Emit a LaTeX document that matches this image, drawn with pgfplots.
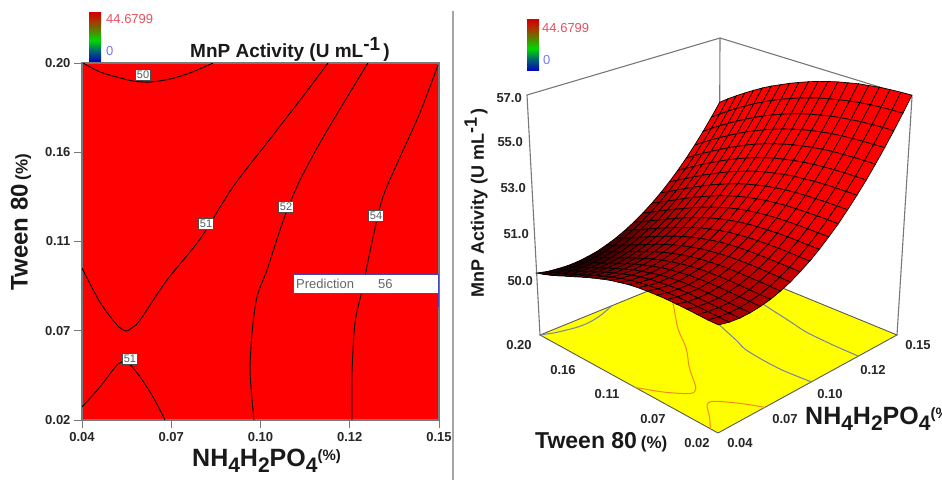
\documentclass[border=0pt]{standalone}
\usepackage{pgfplots}
\usepackage{pgfplotstable}
\pgfplotsset{compat=1.18}
\usepackage{fontspec}
\setmainfont{Liberation Sans}
\definecolor{axgray}{RGB}{120,120,120}
\definecolor{cthi}{RGB}{120,130,160}
\definecolor{ctlo}{RGB}{240,140,30}
\definecolor{barred}{RGB}{232,80,96}
\definecolor{barblue}{RGB}{120,120,240}
\definecolor{yel}{RGB}{255,255,0}
\pgfdeclareverticalshading{cbar}{100bp}{rgb(0bp)=(0,0,.75); rgb(25bp)=(0,0,.75); rgb(37bp)=(0,.42,.42); rgb(47bp)=(0,.85,0); rgb(59bp)=(.4,.45,0); rgb(67bp)=(.68,.2,0); rgb(75bp)=(.82,0,0); rgb(100bp)=(.82,0,0)}
\pgfplotstableread{
N T
0.0403 0.2000
0.0455 0.1955
0.0508 0.1929
0.0557 0.1909
0.0610 0.1904
0.0671 0.1919
0.0733 0.1950
0.0804 0.2000
}\cFifty
\pgfplotstableread{
N T
0.1158 0.2000
0.1072 0.1813
0.0970 0.1597
0.0865 0.1375
0.0764 0.1113
0.0662 0.0906
0.0579 0.0704
0.0557 0.0669
0.0536 0.0649
0.0508 0.0679
0.0455 0.0795
0.0400 0.0966
}\cFiftyOneA
\pgfplotstableread{
N T
0.0400 0.0266
0.0455 0.0366
0.0511 0.0482
0.0542 0.0487
0.0579 0.0417
0.0619 0.0316
0.0656 0.0200
}\cFiftyOneB
\pgfplotstableread{
N T
0.1281 0.2000
0.1217 0.1828
0.1133 0.1597
0.1072 0.1410
0.1032 0.1259
0.1001 0.1113
0.0970 0.0956
0.0939 0.0820
0.0924 0.0639
0.0918 0.0437
0.0930 0.0200
}\cFiftyTwo
\pgfplotstableread{
N T
0.1497 0.1990
0.1441 0.1748
0.1380 0.1526
0.1327 0.1324
0.1297 0.1123
0.1263 0.0855
0.1241 0.0689
0.1232 0.0437
0.1232 0.0200
}\cFiftyFour
\pgfplotstableread{
N T
0.04 0.02
0.15 0.02
0.15 0.20
0.04 0.20
0.04 0.02
}\cFloor
% response surface: P, Q are grid steps (of 20) along NH4H2PO4 and Tween 80, Z is MnP activity
\pgfplotstableread{
P Q Z
20 20 54.36
20 19 54.62
20 18 54.86
20 17 55.09
20 16 55.31
20 15 55.52
20 14 55.71
20 13 55.88
20 12 56.05
20 11 56.20
20 10 56.34
20 9 56.47
20 8 56.58
20 7 56.68
20 6 56.76
20 5 56.84
20 4 56.89
20 3 56.94
20 2 56.97
20 1 56.99
20 0 57.00
19 20 53.86
19 19 54.10
19 18 54.34
19 17 54.57
19 16 54.78
19 15 54.99
19 14 55.18
19 13 55.36
19 12 55.52
19 11 55.67
19 10 55.81
19 9 55.93
19 8 56.04
19 7 56.13
19 6 56.21
19 5 56.28
19 4 56.34
19 3 56.38
19 2 56.41
19 1 56.42
19 0 56.43
18 20 53.38
18 19 53.62
18 18 53.85
18 17 54.07
18 16 54.28
18 15 54.48
18 14 54.67
18 13 54.85
18 12 55.01
18 11 55.16
18 10 55.30
18 9 55.42
18 8 55.52
18 7 55.61
18 6 55.69
18 5 55.75
18 4 55.80
18 3 55.84
18 2 55.86
18 1 55.88
18 0 55.88
17 20 52.93
17 19 53.16
17 18 53.39
17 17 53.60
17 16 53.81
17 15 54.01
17 14 54.20
17 13 54.37
17 12 54.53
17 11 54.68
17 10 54.81
17 9 54.93
17 8 55.03
17 7 55.12
17 6 55.19
17 5 55.25
17 4 55.29
17 3 55.32
17 2 55.34
17 1 55.35
17 0 55.36
16 20 52.51
16 19 52.73
16 18 52.95
16 17 53.16
16 16 53.36
16 15 53.56
16 14 53.74
16 13 53.92
16 12 54.08
16 11 54.22
16 10 54.35
16 9 54.46
16 8 54.56
16 7 54.64
16 6 54.71
16 5 54.77
16 4 54.81
16 3 54.83
16 2 54.85
16 1 54.86
16 0 54.86
15 20 52.12
15 19 52.33
15 18 52.54
15 17 52.75
15 16 52.95
15 15 53.14
15 14 53.32
15 13 53.49
15 12 53.65
15 11 53.79
15 10 53.92
15 9 54.03
15 8 54.12
15 7 54.20
15 6 54.26
15 5 54.31
15 4 54.35
15 3 54.37
15 2 54.39
15 1 54.39
15 0 54.39
14 20 51.76
14 19 51.96
14 18 52.16
14 17 52.36
14 16 52.56
14 15 52.74
14 14 52.92
14 13 53.09
14 12 53.24
14 11 53.38
14 10 53.51
14 9 53.61
14 8 53.70
14 7 53.78
14 6 53.84
14 5 53.88
14 4 53.92
14 3 53.94
14 2 53.95
14 1 53.95
14 0 53.95
13 20 51.43
13 19 51.62
13 18 51.81
13 17 52.01
13 16 52.20
13 15 52.38
13 14 52.56
13 13 52.72
13 12 52.87
13 11 53.01
13 10 53.13
13 9 53.23
13 8 53.32
13 7 53.39
13 6 53.45
13 5 53.49
13 4 53.51
13 3 53.53
13 2 53.54
13 1 53.54
13 0 53.54
12 20 51.13
12 19 51.31
12 18 51.49
12 17 51.68
12 16 51.87
12 15 52.05
12 14 52.22
12 13 52.38
12 12 52.53
12 11 52.66
12 10 52.78
12 9 52.88
12 8 52.96
12 7 53.03
12 6 53.08
12 5 53.12
12 4 53.14
12 3 53.15
12 2 53.16
12 1 53.16
12 0 53.15
11 20 50.86
11 19 51.03
11 18 51.21
11 17 51.39
11 16 51.57
11 15 51.74
11 14 51.91
11 13 52.07
11 12 52.21
11 11 52.34
11 10 52.46
11 9 52.56
11 8 52.64
11 7 52.70
11 6 52.75
11 5 52.78
11 4 52.80
11 3 52.81
11 2 52.81
11 1 52.81
11 0 52.81
10 20 50.62
10 19 50.78
10 18 50.95
10 17 51.12
10 16 51.30
10 15 51.47
10 14 51.64
10 13 51.79
10 12 51.93
10 11 52.06
10 10 52.17
10 9 52.26
10 8 52.34
10 7 52.40
10 6 52.44
10 5 52.47
10 4 52.49
10 3 52.50
10 2 52.50
10 1 52.49
10 0 52.49
9 20 50.41
9 19 50.56
9 18 50.73
9 17 50.90
9 16 51.07
9 15 51.23
9 14 51.39
9 13 51.54
9 12 51.68
9 11 51.81
9 10 51.91
9 9 52.00
9 8 52.08
9 7 52.13
9 6 52.17
9 5 52.20
9 4 52.21
9 3 52.22
9 2 52.22
9 1 52.21
9 0 52.20
8 20 50.23
8 19 50.38
8 18 50.53
8 17 50.70
8 16 50.86
8 15 51.03
8 14 51.18
8 13 51.33
8 12 51.47
8 11 51.59
8 10 51.69
8 9 51.78
8 8 51.85
8 7 51.90
8 6 51.94
8 5 51.96
8 4 51.97
8 3 51.97
8 2 51.97
8 1 51.96
8 0 51.96
7 20 50.09
7 19 50.22
7 18 50.37
7 17 50.53
7 16 50.69
7 15 50.85
7 14 51.01
7 13 51.15
7 12 51.28
7 11 51.40
7 10 51.50
7 9 51.59
7 8 51.65
7 7 51.70
7 6 51.74
7 5 51.76
7 4 51.77
7 3 51.77
7 2 51.76
7 1 51.75
7 0 51.74
6 20 49.97
6 19 50.10
6 18 50.25
6 17 50.40
6 16 50.56
6 15 50.72
6 14 50.87
6 13 51.01
6 12 51.14
6 11 51.25
6 10 51.35
6 9 51.43
6 8 51.49
6 7 51.54
6 6 51.57
6 5 51.59
6 4 51.60
6 3 51.59
6 2 51.59
6 1 51.58
6 0 51.57
5 20 49.90
5 19 50.02
5 18 50.16
5 17 50.31
5 16 50.46
5 15 50.61
5 14 50.76
5 13 50.90
5 12 51.03
5 11 51.14
5 10 51.23
5 9 51.31
5 8 51.37
5 7 51.42
5 6 51.45
5 5 51.46
5 4 51.47
5 3 51.46
5 2 51.45
5 1 51.44
5 0 51.43
4 20 49.85
4 19 49.97
4 18 50.11
4 17 50.25
4 16 50.40
4 15 50.55
4 14 50.69
4 13 50.83
4 12 50.95
4 11 51.06
4 10 51.16
4 9 51.23
4 8 51.29
4 7 51.34
4 6 51.36
4 5 51.38
4 4 51.38
4 3 51.37
4 2 51.36
4 1 51.35
4 0 51.34
3 20 49.84
3 19 49.95
3 18 50.08
3 17 50.23
3 16 50.37
3 15 50.52
3 14 50.66
3 13 50.79
3 12 50.92
3 11 51.02
3 10 51.11
3 9 51.19
3 8 51.25
3 7 51.29
3 6 51.31
3 5 51.32
3 4 51.32
3 3 51.31
3 2 51.30
3 1 51.29
3 0 51.28
2 20 49.87
2 19 49.97
2 18 50.10
2 17 50.24
2 16 50.38
2 15 50.53
2 14 50.67
2 13 50.80
2 12 50.92
2 11 51.03
2 10 51.12
2 9 51.19
2 8 51.24
2 7 51.28
2 6 51.31
2 5 51.32
2 4 51.31
2 3 51.30
2 2 51.29
2 1 51.27
2 0 51.26
1 20 49.92
1 19 50.03
1 18 50.15
1 17 50.29
1 16 50.43
1 15 50.57
1 14 50.71
1 13 50.84
1 12 50.96
1 11 51.07
1 10 51.16
1 9 51.23
1 8 51.28
1 7 51.32
1 6 51.34
1 5 51.35
1 4 51.34
1 3 51.33
1 2 51.32
1 1 51.30
1 0 51.29
0 20 50.02
0 19 50.12
0 18 50.24
0 17 50.38
0 16 50.52
0 15 50.66
0 14 50.80
0 13 50.93
0 12 51.05
0 11 51.16
0 10 51.24
0 9 51.32
0 8 51.37
0 7 51.40
0 6 51.42
0 5 51.43
0 4 51.42
0 3 51.41
0 2 51.39
0 1 51.37
0 0 51.37
}\surfdata
\newcommand\pSf{(\thisrow{P}/20)}
\newcommand\qSf{(\thisrow{Q}/20)}
\newcommand\wSf{((\thisrow{Z}-47.4)/9.6)}
\newcommand\pFl{((\thisrow{N}-0.04)/0.11)}
\newcommand\qFl{((\thisrow{T}-0.02)/0.18)}
\newcommand\fsz[1]{\fontsize{#1}{#1}\selectfont}
\newcommand\floorc[2]{\addplot[#1] table[
  x index=0,y index=1,
  x expr={(718+333*\pFl-85.8*\qFl)/(1+0.1717*\pFl+0.1707*\qFl)},
  y expr={480-(433-40.5*\pFl-40.8*\qFl)/(1+0.1717*\pFl+0.1707*\qFl)}]{#2};}
\begin{document}
\begin{tikzpicture}[x=1pt,y=1pt]
\path[use as bounding box] (0,0) rectangle (942,480);
\begin{axis}[
  at={(82pt,60pt)},anchor=south west,scale only axis,width=357pt,height=357pt,
  xmin=0.04,xmax=0.15,ymin=0.02,ymax=0.20,
  axis background/.style={fill=red},
  axis line style={axgray,line width=1.2pt},
  xtick={0.04,0.0675,0.095,0.1225,0.15},
  xticklabels={0.04,0.07,0.10,0.12,0.15},
  ytick={0.02,0.065,0.11,0.155,0.20},
  yticklabels={0.02,0.07,0.11,0.16,0.20},
  tick style={axgray,line width=1pt},
  major tick length=8pt,
  tick align=outside,xtick pos=bottom,ytick pos=left,
  tick label style={font=\bfseries\fontsize{13}{13}\selectfont,text=black!85},
  xticklabel style={yshift=-1pt},
]
\addplot[black,line width=0.9pt,smooth] table[x=N,y=T]{\cFifty};
\addplot[black,line width=0.9pt,smooth] table[x=N,y=T]{\cFiftyOneA};
\addplot[black,line width=0.9pt,smooth] table[x=N,y=T]{\cFiftyOneB};
\addplot[black,line width=0.9pt,smooth] table[x=N,y=T]{\cFiftyTwo};
\addplot[black,line width=0.9pt,smooth] table[x=N,y=T]{\cFiftyFour};
\end{axis}
\shade[shading=cbar] (89,418) rectangle (101,467);
\shade[shading=cbar] (527,409) rectangle (539,460);
\begin{scope}[shift={(0pt,480pt)},x=1pt,y=-1pt]
\draw[gray!70,line width=2.5pt] (453,11) -- (453,480);
\draw[axgray,line width=1.1pt] (540,335)--(527,95)--(720,38)--(912,97)--(897,335);
\draw[axgray,line width=1.1pt] (720,38)--(719,262);
\end{scope}
\begin{axis}[
  at={(0pt,0pt)},anchor=south west,scale only axis,width=942pt,height=480pt,
  xmin=0,xmax=942,ymin=0,ymax=480,
  hide axis,clip=false,
  colormap={srf}{rgb255(0cm)=(25,0,0) rgb255(5cm)=(90,0,0) rgb255(11cm)=(150,0,0) rgb255(21cm)=(210,0,0) rgb255(31cm)=(245,0,0) rgb255(41cm)=(255,0,0)},
  point meta min=49.9,point meta max=54,
]
\floorc{fill=yel,draw=black!65,line width=0.9pt}{\cFloor}
\floorc{cthi,line width=1pt,smooth}{\cFifty}
\floorc{cthi,line width=1pt,smooth}{\cFiftyTwo}
\floorc{cthi,line width=1pt,smooth}{\cFiftyFour}
\floorc{ctlo,line width=1pt,smooth}{\cFiftyOneA}
\floorc{ctlo,line width=1pt,smooth}{\cFiftyOneB}
\addplot[surf,shader=faceted,faceted color=black,line width=0.7pt,
  mesh/rows=21,mesh/cols=21,point meta=\thisrow{Z}] table[
  x index=0,y index=1,
  x expr={(718+333*\pSf-85.8*\qSf-60.1*\wSf)/(1+0.1717*\pSf+0.1707*\qSf-0.0852*\wSf)},
  y expr={480-(433-40.5*\pSf-40.8*\qSf-289.1*\wSf)/(1+0.1717*\pSf+0.1707*\qSf-0.0852*\wSf)+12*\pSf*\qSf*\wSf}]{\surfdata};
\end{axis}
\begin{scope}[shift={(0pt,480pt)},x=1pt,y=-1pt]
\node[text=barred,anchor=west,inner sep=0] at (106,19) {\fsz{13}44.6799};
\node[text=barblue,anchor=west,inner sep=0] at (106,51) {\fsz{13}0};
\node[anchor=west,inner sep=0,text=black!90] at (190,49) {\fsz{19}\bfseries MnP Activity (U mL\raisebox{7pt}{-1}\,)};
\node[rotate=90,anchor=center,inner sep=0,text=black!90] at (21,222) {\fsz{24}\bfseries Tween 80\,\fsz{17}(\%)};
\node[anchor=west,inner sep=0,text=black!90] at (192,461) {\fsz{25}\bfseries NH\raisebox{-6pt}{\fsz{21}4}H\raisebox{-6pt}{\fsz{21}2}PO\raisebox{-6pt}{\fsz{21}4}\raisebox{6pt}{\fsz{15}(\%)}};
\foreach \lxx/\lyy/\ltt in {143/75/50,206/224/51,286/207/52,376/216/54,130/359/51}
  \node[fill=white,draw=black!70,line width=0.6pt,inner sep=1.5pt,text=black!65] at (\lxx,\lyy) {\fsz{11}\ltt};
\draw[draw=blue!45!gray,line width=1pt,fill=white] (293,274) rectangle (438,293);
\draw[draw=blue!45!gray,line width=1pt] (438,293)--(438,307);
\node[anchor=west,inner sep=0,text=black!60] at (296,284) {\fsz{13}Prediction};
\node[anchor=west,inner sep=0,text=black!60] at (378,284) {\fsz{13}56};
\node[text=barred,anchor=west,inner sep=0] at (542,28) {\fsz{13}44.6799};
\node[text=barblue,anchor=west,inner sep=0] at (543,60) {\fsz{13}0};
\node[rotate=90,anchor=center,inner sep=0,text=black!90] at (476,203) {\fsz{18}\bfseries MnP Activity (U mL\raisebox{7pt}{-1}\,)};
\foreach \lxx/\lyy/\ltt in {522/98/57.0,523/142/55.0,526/188/53.0,529/234/51.0,533/281/50.0}
  \node[anchor=east,inner sep=0,text=black!85] at (\lxx,\lyy) {\fsz{13}\bfseries\ltt};
\foreach \lxx/\lyy/\ltt in {519/345/0.20,563/370/0.16,607/394/0.11,653/419/0.07,697/443/0.02,740/443/0.04,785/419/0.07,830/394/0.10,873/370/0.12,918/345/0.15}
  \node[inner sep=0,text=black!85] at (\lxx,\lyy) {\fsz{13}\bfseries\ltt};
\node[anchor=west,inner sep=0,text=black!90] at (535,442) {\fsz{23}\bfseries Tween 80\,\fsz{17}(\%)};
\node[anchor=west,inner sep=0,text=black!90] at (805,419) {\fsz{25}\bfseries NH\raisebox{-6pt}{\fsz{21}4}H\raisebox{-6pt}{\fsz{21}2}PO\raisebox{-6pt}{\fsz{21}4}\raisebox{6pt}{\fsz{15}(\%)}};
\end{scope}
\end{tikzpicture}
\end{document}
